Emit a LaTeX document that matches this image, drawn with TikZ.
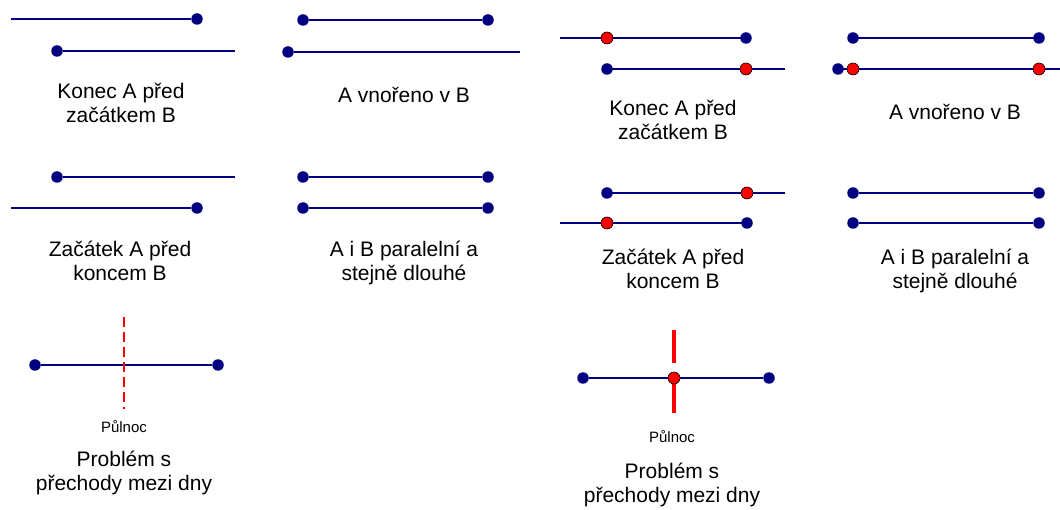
\documentclass[tikz,border=0pt]{standalone}
\usepackage{fontspec}
\setmainfont{Liberation Sans}
\usepackage{tikz}

\definecolor{tmava}{RGB}{0,0,128}

\begin{document}
\begin{tikzpicture}[x=1pt,y=1pt,
  bod/.style={circle,fill=tmava,inner sep=0pt,minimum size=11.5pt},
  cerv/.style={circle,fill=red,draw=black,line width=0.6pt,inner sep=0pt,minimum size=12pt},
  usecka/.style={draw=tmava,line width=1.2pt},
  popis/.style={align=center,anchor=base,font=\fontsize{21}{24}\selectfont},
  malypopis/.style={anchor=base,font=\fontsize{15}{18}\selectfont}]
\useasboundingbox (0,0) rectangle (1060,-510);

\coordinate (k1a) at (11,-19);
\node [bod] (k1b) at (197,-19) {};
\node [bod] (k1c) at (57,-51) {};
\coordinate (k1d) at (235,-51);
\draw [usecka] (k1a) -- (k1b);
\draw [usecka] (k1c) -- (k1d);
\node [popis] (k1t) at (121,-123) {Konec A před\\začátkem B};

\node [bod] (v1a) at (303,-20) {};
\node [bod] (v1b) at (488,-20) {};
\node [bod] (v1c) at (288,-52) {};
\coordinate (v1d) at (520,-52);
\draw [usecka] (v1a) -- (v1b);
\draw [usecka] (v1c) -- (v1d);
\node [popis] (v1t) at (404,-103) {A vnořeno v B};

\coordinate (k2a) at (560,-38);
\coordinate (k2f) at (785,-69);
\draw [usecka] (k2a) -- (746,-38);
\draw [usecka] (607,-69) -- (k2f);
\node [cerv] (k2b) at (607,-38) {};
\node [bod] (k2c) at (746,-38) {};
\node [bod] (k2d) at (607,-69) {};
\node [cerv] (k2e) at (746,-69) {};
\node [popis] (k2t) at (673,-140) {Konec A před\\začátkem B};

\coordinate (v2f) at (1060,-69);
\draw [usecka] (853,-38) -- (1039,-38);
\draw [usecka] (838,-69) -- (v2f);
\node [bod] (v2a) at (853,-38) {};
\node [bod] (v2b) at (1039,-38) {};
\node [bod] (v2c) at (838,-69) {};
\node [cerv] (v2d) at (853,-69) {};
\node [cerv] (v2e) at (1039,-69) {};
\node [popis] (v2t) at (955,-120) {A vnořeno v B};

\node [bod] (z1a) at (57,-177) {};
\coordinate (z1b) at (235,-177);
\coordinate (z1c) at (11,-208);
\node [bod] (z1d) at (197,-208) {};
\draw [usecka] (z1a) -- (z1b);
\draw [usecka] (z1c) -- (z1d);
\node [popis] (z1t) at (120,-281) {Začátek A před\\koncem B};

\node [bod] (p1a) at (303,-177) {};
\node [bod] (p1b) at (488,-177) {};
\node [bod] (p1c) at (303,-208) {};
\node [bod] (p1d) at (488,-208) {};
\draw [usecka] (p1a) -- (p1b);
\draw [usecka] (p1c) -- (p1d);
\node [popis] (p1t) at (404,-281) {A i B paralelní a\\stejně dlouhé};

\coordinate (z2c) at (785,-193);
\coordinate (z2d) at (560,-223);
\draw [usecka] (607,-193) -- (z2c);
\draw [usecka] (z2d) -- (747,-223);
\node [bod] (z2a) at (607,-193) {};
\node [cerv] (z2b) at (747,-193) {};
\node [cerv] (z2e) at (607,-223) {};
\node [bod] (z2f) at (747,-223) {};
\node [popis] (z2t) at (673,-289) {Začátek A před\\koncem B};

\node [bod] (p2a) at (853,-193) {};
\node [bod] (p2b) at (1039,-193) {};
\node [bod] (p2c) at (853,-223) {};
\node [bod] (p2d) at (1039,-223) {};
\draw [usecka] (p2a) -- (p2b);
\draw [usecka] (p2c) -- (p2d);
\node [popis] (p2t) at (955,-289) {A i B paralelní a\\stejně dlouhé};

\node [bod] (m1a) at (35,-365) {};
\node [bod] (m1b) at (218,-365) {};
\draw [usecka] (m1a) -- (m1b);
\coordinate (m1h) at (124,-317);
\coordinate (m1d) at (124,-409);
\draw [red,line width=2pt,dash pattern=on 10pt off 5pt] (m1h) -- (m1d);
\node [malypopis] (m1p) at (124,-432) {Půlnoc};
\node [popis] (m1t) at (124,-490) {Problém s\\přechody mezi dny};

\node [bod] (m2a) at (583,-378) {};
\node [bod] (m2c) at (769,-378) {};
\draw [usecka] (m2a) -- (m2c);
\coordinate (m2h) at (674,-330);
\coordinate (m2d) at (674,-413);
\draw [red,line width=3.5pt] (m2h) -- (674,-363);
\draw [red,line width=3.5pt] (674,-383) -- (m2d);
\node [cerv] (m2b) at (674,-378) {};
\node [malypopis] (m2p) at (672,-442) {Půlnoc};
\node [popis] (m2t) at (672,-502) {Problém s\\přechody mezi dny};
\end{tikzpicture}
\end{document}
